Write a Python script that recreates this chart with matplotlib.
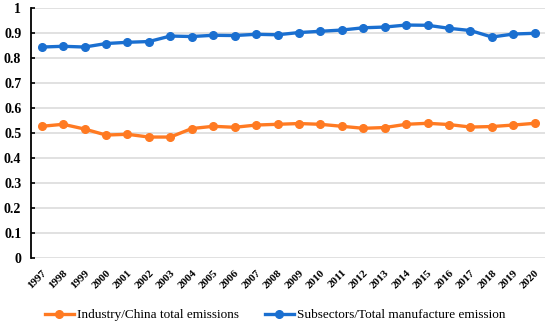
import numpy as np
import matplotlib
matplotlib.use("Agg")
import matplotlib.pyplot as plt

# data
years = [str(y) for y in range(1997, 2021)]
industry_share = [0.528, 0.536, 0.517, 0.493, 0.496, 0.485, 0.485, 0.519, 0.528, 0.524,
                  0.533, 0.536, 0.539, 0.536, 0.528, 0.520, 0.523, 0.536, 0.540, 0.535,
                  0.525, 0.527, 0.533, 0.540]
subsector_share = [0.845, 0.848, 0.845, 0.859, 0.864, 0.867, 0.889, 0.887, 0.892, 0.891,
                   0.896, 0.894, 0.903, 0.908, 0.913, 0.922, 0.925, 0.933, 0.932, 0.920,
                   0.911, 0.885, 0.897, 0.900]
y_ticks = [0, 0.1, 0.2, 0.3, 0.4, 0.5, 0.6, 0.7, 0.8, 0.9, 1]
y_labels = ["0", "0.1", "0.2", "0.3", "0.4", "0.5", "0.6", "0.7", "0.8", "0.9", "1"]

plt.rcParams['font.family'] = ['Liberation Serif', 'DejaVu Serif']

fig = plt.figure(figsize=(5.5, 3.25), dpi=100)
ax = fig.add_axes([0.0564, 0.2052, 0.9354, 0.7693])

x = np.arange(len(years))
ax.plot(x, industry_share, color='#FF7A22', lw=2.4, marker='o', ms=5.5,
        label='Industry/China total emissions', zorder=3)
ax.plot(x, subsector_share, color='#1A6FD0', lw=2.4, marker='o', ms=5.5,
        label='Subsectors/Total manufacture emission', zorder=3)

ax.set_xlim(-0.5, len(years) - 0.5)
ax.set_ylim(0, 1)
ax.set_yticks(y_ticks)
ax.set_yticklabels(y_labels, fontsize=10, fontweight='bold')
ax.set_xticks(x)
ax.set_xticklabels(years, fontsize=8, fontweight='bold', rotation=45,
                   ha='right', rotation_mode='anchor')

ax.grid(axis='y', color='#D9D9D9', lw=1.1)
ax.set_axisbelow(True)
for s in ['top', 'right', 'bottom']:
    ax.spines[s].set_visible(False)
ax.spines['left'].set_linewidth(1.3)
ax.tick_params(axis='y', direction='in', length=3, width=1.2, pad=7)
ax.tick_params(axis='x', length=0, pad=7)

fig.legend(loc='lower center', bbox_to_anchor=(0.5, -0.025), ncol=2, frameon=False,
           fontsize=9.5, handlelength=2.2, handletextpad=0.2, columnspacing=2.0)

fig.savefig('out.png', dpi=100)
